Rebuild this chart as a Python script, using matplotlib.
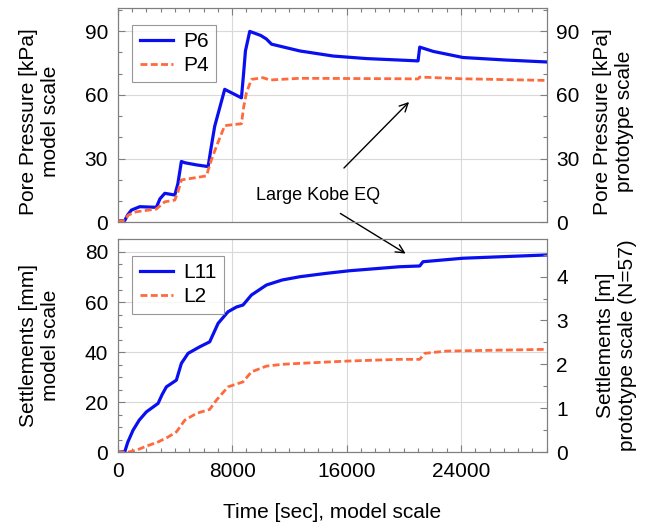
import matplotlib
matplotlib.use('Agg')
import matplotlib.pyplot as plt
from matplotlib.ticker import MultipleLocator

plt.rcParams['font.family'] = ['Liberation Sans', 'DejaVu Sans']
plt.rcParams['font.size'] = 15

# pore pressure, kPa (model scale = prototype scale)
t_p6 = [0, 490, 700, 957, 1540, 2700, 2950, 3290, 3990, 4200, 4450, 4700, 5500,
        6320, 6550, 6780, 7130, 7480, 8650, 8800, 8930, 9230, 10000, 10400,
        10750, 12730, 15060, 17390, 19720, 21000, 21120, 22050, 24150, 27180,
        30000]
p6 = [0.5, 0.8, 3.5, 5.7, 7.3, 7.0, 11.0, 13.6, 12.8, 18.0, 28.6, 28.0, 27.0,
      26.2, 36.0, 45.2, 53.9, 62.6, 58.6, 70.0, 80.7, 89.9, 88.0, 86.3,
      83.9, 80.7, 78.3, 77.1, 76.4, 76.0, 82.5, 80.5, 77.6, 76.4, 75.5]
t_p4 = [0, 500, 720, 1300, 2700, 3290, 3990, 4200, 4450, 6200, 6550, 6900, 7480,
        8650, 8800, 9000, 9350, 10160, 10630, 12730, 19720, 21000, 21120, 24000,
        30000]
p4 = [0.5, 0.8, 3.3, 4.9, 6.2, 9.6, 10.4, 14.0, 19.9, 21.8, 29.4, 35.7, 45.5,
      46.4, 54.0, 61.0, 67.3, 68.1, 67.0, 67.8, 67.6, 67.5, 68.4, 67.6, 66.8]

# settlements, mm (model scale)
t_l11 = [0, 490, 700, 1070, 1500, 2000, 2820, 3100, 3400, 4100, 4450, 4920, 5730,
         6430, 7020, 7710, 8300, 8760, 9350, 10400, 11500, 12730, 14500, 16220,
         19720, 21120, 21350, 24150, 30000]
l11 = [0.0, 0.2, 4.0, 8.8, 12.8, 16.1, 19.5, 23.0, 26.1, 28.8, 35.5, 39.5, 42.1,
       44.1, 51.5, 56.1, 58.0, 58.8, 62.8, 66.8, 68.8, 70.1, 71.4, 72.5,
       74.1, 74.4, 76.1, 77.5, 78.8]
t_l2 = [0, 700, 1300, 2000, 2820, 3500, 4100, 4690, 5500, 6430, 6900, 7710, 8760,
        9350, 10400, 11500, 12730, 16000, 19720, 21120, 21470, 22990, 30000]
l2 = [0.0, 0.0, 0.8, 2.4, 4.1, 6.0, 8.1, 12.8, 15.5, 17.1, 20.8, 26.1, 28.1,
      32.1, 34.4, 35.1, 35.5, 36.4, 37.1, 37.1, 39.5, 40.4, 41.1]

N = 57
blue = '#0a0ff0'
orange = '#ff6a3d'
grid_c = '#d9d9d9'
spine_c = '#7f7f7f'

fig = plt.figure(figsize=(6.47, 5.24), dpi=100)
ax1 = fig.add_axes([0.182, 0.576, 0.663, 0.409])
ax2 = fig.add_axes([0.182, 0.137, 0.663, 0.407])


def style(ax):
    ax.tick_params(which='both', direction='in', colors='black', width=0.8,
                   color=spine_c, pad=7)
    ax.tick_params(which='major', length=5)
    ax.tick_params(which='minor', length=3)
    for s in ax.spines.values():
        s.set_color(spine_c)


ax1.plot(t_p6, p6, color=blue, lw=2.3, label='P6')
ax1.plot(t_p4, p4, color=orange, lw=2.0, ls=(0, (2.5, 1.2)), label='P4')
ax1.set_xlim(0, 30000)
ax1.set_ylim(0, 101)
ax1.xaxis.set_major_locator(MultipleLocator(8000))
ax1.xaxis.set_minor_locator(MultipleLocator(1000))
ax1.yaxis.set_major_locator(MultipleLocator(30))
ax1.yaxis.set_minor_locator(MultipleLocator(10))
ax1.grid(True, which='major', color=grid_c, lw=0.8)
ax1.tick_params(axis='x', which='both', labelbottom=False, top=True, bottom=False)
style(ax1)
ax1.set_ylabel('Pore Pressure [kPa]\nmodel scale', va='center')
ax1.yaxis.set_label_coords(-0.182, 0.47)
leg1 = ax1.legend(loc='upper left', fancybox=False, edgecolor=spine_c,
                  bbox_to_anchor=(0.01, 0.97), handlelength=1.6, borderpad=0.35,
                  labelspacing=0.25, handletextpad=0.5)
leg1.get_frame().set_linewidth(0.8)

ax1r = ax1.twinx()
ax1r.set_ylim(0, 101)
ax1r.yaxis.set_major_locator(MultipleLocator(30))
ax1r.yaxis.set_minor_locator(MultipleLocator(10))
style(ax1r)
ax1r.set_ylabel('Pore Pressure [kPa]\nprototype scale', va='center')
ax1r.yaxis.set_label_coords(1.155, 0.47)

ax2.plot(t_l11, l11, color=blue, lw=2.3, label='L11')
ax2.plot(t_l2, l2, color=orange, lw=2.0, ls=(0, (2.5, 1.2)), label='L2')
ax2.set_xlim(0, 30000)
ax2.set_ylim(0, 85.2)
ax2.xaxis.set_major_locator(MultipleLocator(8000))
ax2.xaxis.set_minor_locator(MultipleLocator(1000))
ax2.yaxis.set_major_locator(MultipleLocator(20))
ax2.yaxis.set_minor_locator(MultipleLocator(5))
ax2.grid(True, which='major', color=grid_c, lw=0.8)
style(ax2)
ax2.set_ylabel('Settlements [mm]\nmodel scale', va='center')
ax2.yaxis.set_label_coords(-0.182, 0.5)
ax2.set_xlabel('Time [sec], model scale', labelpad=16)
leg2 = ax2.legend(loc='upper left', fancybox=False, edgecolor=spine_c,
                  bbox_to_anchor=(0.01, 0.97), handlelength=1.6, borderpad=0.35,
                  labelspacing=0.25, handletextpad=0.5)
leg2.get_frame().set_linewidth(0.8)

ax2r = ax2.twinx()
ax2r.set_ylim(0, 85.2 * N / 1000)
ax2r.yaxis.set_major_locator(MultipleLocator(1))
ax2r.yaxis.set_minor_locator(MultipleLocator(0.5))
style(ax2r)
ax2r.set_ylabel('Settlements [m]\nprototype scale (N=57)', va='center')
ax2r.yaxis.set_label_coords(1.162, 0.5)

# annotation
fig.text(318 / 647, 1 - 195 / 524, 'Large Kobe EQ', ha='center', va='center',
         fontsize=13)
ax1.annotate('', xy=(411 / 647, 1 - 100 / 524), xycoords='figure fraction',
             xytext=(342 / 647, 1 - 170 / 524), textcoords='figure fraction',
             arrowprops=dict(arrowstyle='->', color='black', lw=1.0))
ax2.annotate('', xy=(408 / 647, 1 - 255 / 524), xycoords='figure fraction',
             xytext=(338 / 647, 1 - 212 / 524), textcoords='figure fraction',
             arrowprops=dict(arrowstyle='->', color='black', lw=1.0),
             annotation_clip=False)

fig.savefig('out.png', dpi=100)
